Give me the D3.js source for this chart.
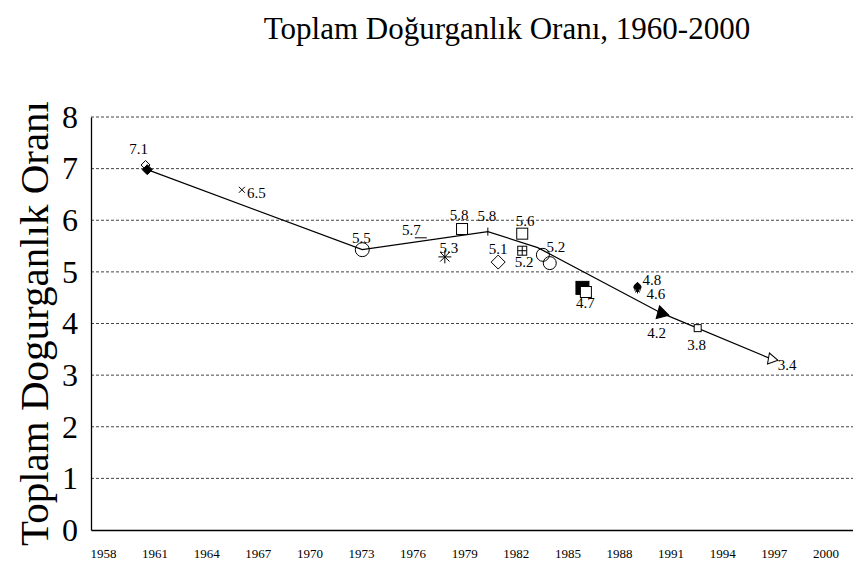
<!DOCTYPE html>
<html lang="tr">

<head>
  <meta charset="UTF-8" />
  <title>Toplam Doğurganlık Oranı</title>
  <script src="https://d3js.org/d3.v7.min.js"></script>
  <style>
    body {
      margin: 0;
      background-color: white;
    }

    svg {
      display: block;
    }

    svg text {
      font-family: 'Liberation Serif', 'Times New Roman', serif;
    }

    .grid line {
      stroke: #444;
      stroke-width: 1;
      stroke-dasharray: 3, 2;
    }
  </style>
</head>

<body>
  <script>
    // trend line through the main estimates
    const trendYears = [1960.4, 1972.9, 1980.2, 1983.1, 1990.3, 1996.7];
    const trendValues = [6.98, 5.43, 5.78, 5.47, 4.2, 3.31];

    // individual survey estimates
    const pointYears = [1960.3, 1960.4, 1965.9, 1972.9, 1976.3, 1978.7, 1980.2, 1977.7, 1980.8, 1982.2,
      1982.2, 1983.4, 1983.8, 1985.7, 1985.9, 1988.9, 1988.9, 1990.3, 1992.4, 1996.7];
    const pointValues = [7.07, 6.98, 6.59, 5.43, 5.66, 5.83, 5.78, 5.29, 5.19, 5.74,
      5.41, 5.33, 5.17, 4.69, 4.61, 4.71, 4.65, 4.2, 3.91, 3.31];
    const pointLabels = ['7.1', '', '6.5', '5.5', '5.7', '5.8', '5.8', '5.3', '5.1', '5.6',
      '5.2', '5.2', '', '4.7', '', '4.8', '4.6', '4.2', '3.8', '3.4'];
    const pointShapes = ['diamondOpen', 'diamondFilled', 'cross', 'circle', 'dash', 'square', 'tick', 'asterisk', 'diamondOpen', 'square',
      'gridSquare', 'circle', 'circle', 'squareFilled', 'square', 'spade', 'asterisk', 'triangleFilled', 'square', 'triangleOpen'];

    const xTicks = d3.range(1958, 2001, 3);
    const yTicks = [0, 1, 2, 3, 4, 5, 6, 7, 8];

    const w = 853;
    const h = 572;

    // mark size and label placement [size, dx, dy, anchor]
    const look = [
      [9, -7, -11, 'middle'], [10, 0, 0, 'middle'], [6, 5, 8, 'start'], [14, -1, -7, 'middle'],
      [12, 0, -3, 'end'], [11, -3, -9, 'middle'], [8, -1, -11, 'middle'], [13, 4, -4, 'middle'],
      [14, 0, -8, 'middle'], [11, 3, -8, 'middle'], [9, 2, 16, 'middle'], [13, 13, -3, 'middle'],
      [13, 0, 0, 'middle'], [13, 3, 20, 'middle'], [11, 0, 0, 'middle'], [10, 5, -2, 'start'],
      [7, 9, 9, 'start'], [13, -5, 25, 'middle'], [7, -1, 22, 'middle'], [11, 6, 11, 'start']
    ];

    const svg = d3.select('body')
      .append('svg')
      .attr('width', w)
      .attr('height', h);

    const x = d3.scaleLinear()
      .domain([1957.128, 2001.43])
      .range([91, 853]);

    const y = d3.scaleLinear()
      .domain([0, 8])
      .range([530, 117]);

    svg.append('text')
      .attr('x', 507)
      .attr('y', 39)
      .attr('text-anchor', 'middle')
      .attr('font-size', '31px')
      .text('Toplam Doğurganlık Oranı, 1960-2000');

    svg.append('text')
      .attr('transform', `translate(48, ${(y(0) + y(8)) / 2}) rotate(-90)`)
      .attr('text-anchor', 'middle')
      .attr('font-size', '41px')
      .text('Toplam Dogurganlık Oranı');

    // grid
    svg.append('g')
      .attr('class', 'grid')
      .selectAll('line')
      .data(yTicks.filter(d => d > 0))
      .enter()
      .append('line')
      .attr('x1', x.range()[0])
      .attr('x2', x.range()[1])
      .attr('y1', d => y(d))
      .attr('y2', d => y(d));

    const xAxis = d3.axisBottom(x)
      .tickValues(xTicks)
      .tickFormat(d3.format('d'))
      .tickSize(0)
      .tickPadding(19);

    const yAxis = d3.axisLeft(y)
      .tickValues(yTicks)
      .tickSize(0)
      .tickPadding(13);

    const gx = svg.append('g')
      .attr('transform', `translate(0,${y(0)})`)
      .call(xAxis)
      .attr('font-family', null)
      .attr('font-size', null);
    gx.selectAll('text')
      .attr('dx', -3)
      .attr('font-size', '13px')
      .attr('fill', 'black');
    gx.select('.domain').attr('stroke', 'black').attr('stroke-width', 1.3);

    const gy = svg.append('g')
      .attr('transform', `translate(${x.range()[0]},0)`)
      .call(yAxis)
      .attr('font-family', null)
      .attr('font-size', null);
    gy.selectAll('text')
      .attr('font-size', '32px')
      .attr('fill', 'black');
    gy.select('.domain').attr('stroke', 'black').attr('stroke-width', 1.3);

    // trend line
    const line = d3.line()
      .x((d, i) => x(trendYears[i]))
      .y((d, i) => y(trendValues[i]));

    svg.append('path')
      .datum(trendYears)
      .attr('d', line)
      .attr('fill', 'none')
      .attr('stroke', 'black')
      .attr('stroke-width', 1.2);

    function drawMark(g, shape, s) {
      const r = s / 2;
      if (shape === 'circle') {
        g.append('circle').attr('r', r).attr('fill', 'none').attr('stroke', 'black');
      } else if (shape === 'square' || shape === 'squareFilled') {
        g.append('rect').attr('x', -r).attr('y', -r).attr('width', s).attr('height', s)
          .attr('fill', shape === 'square' ? 'white' : 'black').attr('stroke', 'black');
      } else if (shape === 'gridSquare') {
        g.append('rect').attr('x', -r).attr('y', -r).attr('width', s).attr('height', s)
          .attr('fill', 'white').attr('stroke', 'black');
        g.append('path').attr('d', `M${-r},0H${r}M0,${-r}V${r}`).attr('stroke', 'black');
      } else if (shape === 'diamondOpen' || shape === 'diamondFilled') {
        g.append('path').attr('d', `M0,${-r}L${r},0L0,${r}L${-r},0Z`)
          .attr('fill', shape === 'diamondOpen' ? 'white' : 'black').attr('stroke', 'black');
      } else if (shape === 'cross') {
        g.append('path').attr('d', `M${-r},${-r}L${r},${r}M${-r},${r}L${r},${-r}`).attr('stroke', 'black');
      } else if (shape === 'dash') {
        g.append('path').attr('d', `M${-r},0H${r}`).attr('stroke', 'black');
      } else if (shape === 'tick') {
        g.append('path').attr('d', `M0,${-r}V${r}`).attr('stroke', 'black');
      } else if (shape === 'asterisk') {
        const q = r * 0.72;
        g.append('path').attr('d', `M${-r},0H${r}M0,${-r}V${r}M${-q},${-q}L${q},${q}M${-q},${q}L${q},${-q}`)
          .attr('stroke', 'black');
      } else if (shape === 'triangleFilled' || shape === 'triangleOpen') {
        g.append('path')
          .attr('d', d3.symbol(d3.symbolTriangle, s * s * 0.45)())
          .attr('transform', shape === 'triangleFilled' ? 'rotate(-15)' : 'rotate(100)')
          .attr('fill', shape === 'triangleFilled' ? 'black' : 'white').attr('stroke', 'black');
      } else if (shape === 'spade') {
        g.append('path')
          .attr('d', `M0,${-r}C${r * 0.4},${-r * 0.5} ${r * 1.1},${-r * 0.2} ${r * 0.7},${r * 0.4}` +
            `C${r * 0.4},${r * 0.7} ${r * 0.1},${r * 0.5} 0,${r * 0.3}` +
            `C${-r * 0.1},${r * 0.5} ${-r * 0.4},${r * 0.7} ${-r * 0.7},${r * 0.4}` +
            `C${-r * 1.1},${-r * 0.2} ${-r * 0.4},${-r * 0.5} 0,${-r}Z` +
            `M0,0L${r * 0.35},${r}L${-r * 0.35},${r}Z`)
          .attr('fill', 'black');
      }
    }

    const marks = svg.append('g');
    pointYears.forEach((yr, i) => {
      const g = marks.append('g')
        .attr('transform', `translate(${x(yr)},${y(pointValues[i])})`);
      drawMark(g, pointShapes[i], look[i][0]);
      if (pointLabels[i]) {
        g.append('text')
          .attr('x', look[i][1])
          .attr('y', look[i][2])
          .attr('text-anchor', look[i][3])
          .attr('font-size', '15px')
          .text(pointLabels[i]);
      }
    });
  </script>
</body>

</html>
